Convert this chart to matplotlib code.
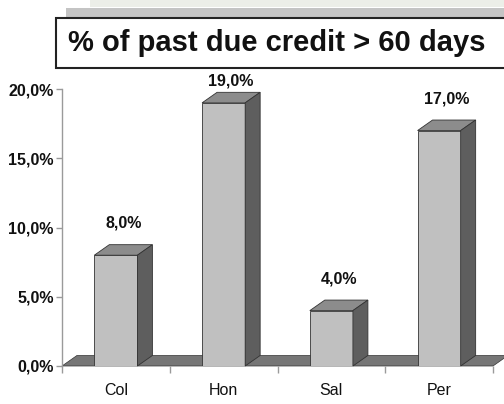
import matplotlib.pyplot as plt
from matplotlib.patches import Polygon, Rectangle
from matplotlib.ticker import FuncFormatter, FixedLocator

plt.rcParams['font.family'] = ['Liberation Sans', 'DejaVu Sans']

countries = ["Col", "Hon", "Sal", "Per"]
past_due = [8.0, 19.0, 4.0, 17.0]
y_ticks = [0, 5, 10, 15, 20]

W, H = 504, 404
fig = plt.figure(figsize=(W / 100, H / 100), dpi=100)
fig.patch.set_facecolor("white")

# faint backdrop strip at the very top
fig.patches.append(Rectangle((90 / W, 1 - 7 / H), 1, 7 / H, transform=fig.transFigure,
                             facecolor="#eceee8", edgecolor="none", zorder=0))
# grey band + boxed title
fig.patches.append(Rectangle((66 / W, 1 - 17 / H), 1, 9 / H, transform=fig.transFigure,
                             facecolor="#c4c4c4", edgecolor="none", zorder=1))
fig.patches.append(Rectangle((56 / W, 1 - 68 / H), 1, 50 / H, transform=fig.transFigure,
                             facecolor="white", edgecolor="#222222", linewidth=1.5, zorder=2))
fig.text(68 / W, 1 - 43 / H, "% of past due credit > 60 days", fontsize=21,
         fontweight="bold", ha="left", va="center", color="#111111", zorder=3)

ax = fig.add_axes([62 / W, 38 / H, 431 / W, 277 / H])
ax.set_xlim(0, len(countries))
ax.set_ylim(0, 20)

front_c, top_c, side_c, floor_c, edge_c = "#c0c0c0", "#8c8c8c", "#5e5e5e", "#767676", "#333333"
bw = 0.4
dx, dy = 0.139, 0.76

# floor of the 3D plot
ax.add_patch(Polygon([(0, 0), (dx, dy), (len(countries) + dx, dy), (len(countries), 0)],
                     closed=True, facecolor=floor_c, edgecolor=edge_c, linewidth=0.5,
                     clip_on=False, zorder=1))

xs = [i + 0.5 for i in range(len(countries))]
ax.bar(xs, past_due, width=bw, color=front_c, edgecolor=edge_c, linewidth=0.6, zorder=3)
for x, v in zip(xs, past_due):
    l, r = x - bw / 2, x + bw / 2
    ax.add_patch(Polygon([(l, v), (l + dx, v + dy), (r + dx, v + dy), (r, v)], closed=True,
                         facecolor=top_c, edgecolor=edge_c, linewidth=0.6, clip_on=False, zorder=3))
    ax.add_patch(Polygon([(r, 0), (r + dx, dy), (r + dx, v + dy), (r, v)], closed=True,
                         facecolor=side_c, edgecolor=edge_c, linewidth=0.6, clip_on=False, zorder=3))
    ly = min(v + dy + 1.55, 20.6)
    ax.text(x + dx / 2, ly, f"{v:.1f}%".replace(".", ","), ha="center", va="center",
            fontsize=11.5, fontweight="bold", color="#111111", clip_on=False)

for s in ["top", "right", "bottom"]:
    ax.spines[s].set_visible(False)
ax.spines["left"].set_color("#9a9a9a")
ax.spines["left"].set_linewidth(1.0)

ax.yaxis.set_major_locator(FixedLocator(y_ticks))
ax.yaxis.set_major_formatter(FuncFormatter(lambda v, p: f"{v:.1f}%".replace(".", ",")))
ax.tick_params(axis="y", length=4, width=1, color="#9a9a9a", pad=2, labelsize=11.5,
               labelcolor="#111111")
for t in ax.get_yticklabels():
    t.set_fontweight("bold")

ax.set_xticks(xs)
ax.set_xticklabels(countries)
ax.set_xticks(range(len(countries) + 1), minor=True)
ax.tick_params(axis="x", which="major", length=0, pad=12, labelsize=11.5, labelcolor="#111111")
ax.tick_params(axis="x", which="minor", length=5, width=1, color="#9a9a9a")

fig.savefig("out.png", dpi=100)
